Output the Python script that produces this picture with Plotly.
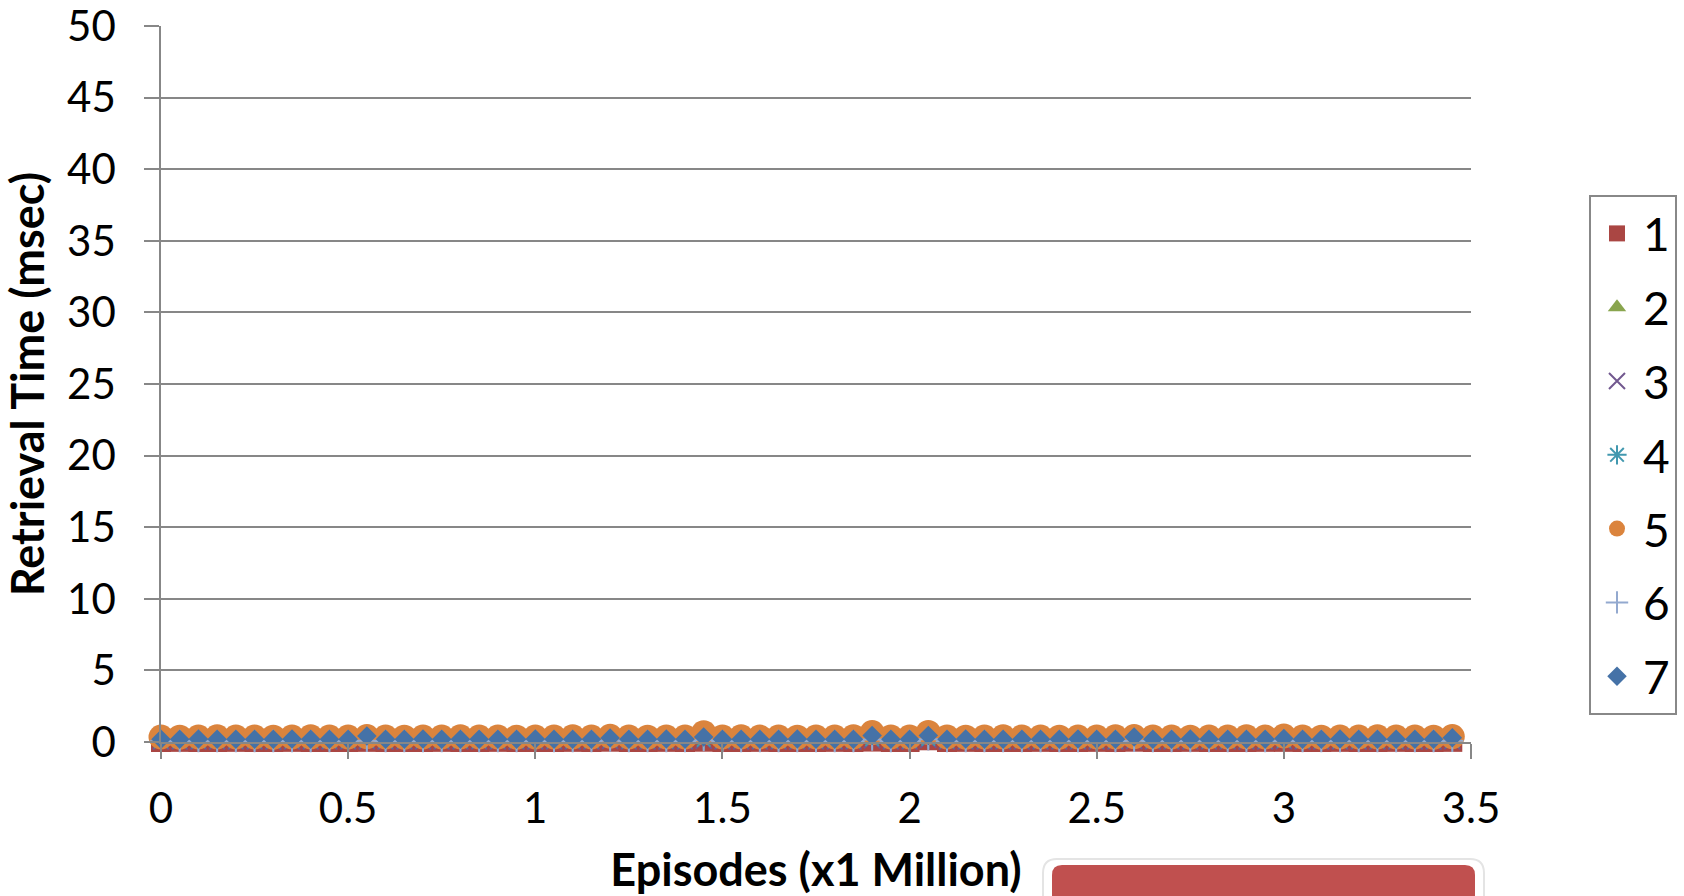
import plotly.graph_objects as go

# ---------------- data ----------------
episodes = [0.00, 0.05, 0.10, 0.15, 0.20, 0.25, 0.30, 0.35, 0.40, 0.45,
            0.50, 0.55, 0.60, 0.65, 0.70, 0.75, 0.80, 0.85, 0.90, 0.95,
            1.00, 1.05, 1.10, 1.15, 1.20, 1.25, 1.30, 1.35, 1.40, 1.45,
            1.50, 1.55, 1.60, 1.65, 1.70, 1.75, 1.80, 1.85, 1.90, 1.95,
            2.00, 2.05, 2.10, 2.15, 2.20, 2.25, 2.30, 2.35, 2.40, 2.45,
            2.50, 2.55, 2.60, 2.65, 2.70, 2.75, 2.80, 2.85, 2.90, 2.95,
            3.00, 3.05, 3.10, 3.15, 3.20, 3.25, 3.30, 3.35, 3.40, 3.45]

series_names = ["1", "2", "3", "4", "5", "6", "7"]

s1 = [0.00, 0.01, 0.00, 0.00, 0.01, 0.00, 0.00, 0.01, 0.00, 0.00,
      0.00, 0.01, 0.00, 0.00, 0.00, 0.01, 0.00, 0.00, 0.01, 0.00,
      0.00, 0.00, 0.01, 0.00, 0.02, 0.00, 0.00, 0.01, 0.00, 0.02,
      0.00, 0.00, 0.01, 0.00, 0.00, 0.00, 0.01, 0.00, 0.03, 0.00,
      0.00, 0.12, 0.00, 0.01, 0.00, 0.00, 0.00, 0.01, 0.00, 0.00,
      0.01, 0.00, 0.02, 0.00, 0.00, 0.01, 0.00, 0.00, 0.00, 0.01,
      0.01, 0.00, 0.00, 0.01, 0.00, 0.00, 0.01, 0.00, 0.00, 0.01]

s2 = [0.05, 0.05, 0.06, 0.05, 0.05, 0.04, 0.05, 0.05, 0.06, 0.05,
      0.05, 0.07, 0.05, 0.05, 0.05, 0.06, 0.05, 0.05, 0.04, 0.05,
      0.05, 0.05, 0.06, 0.05, 0.55, 0.05, 0.05, 0.05, 0.06, 0.12,
      0.05, 0.05, 0.05, 0.04, 0.05, 0.05, 0.06, 0.05, 0.18, 0.05,
      0.05, 0.22, 0.05, 0.05, 0.06, 0.05, 0.05, 0.05, 0.04, 0.05,
      0.05, 0.06, 0.08, 0.05, 0.05, 0.05, 0.05, 0.06, 0.05, 0.05,
      0.08, 0.05, 0.05, 0.05, 0.06, 0.05, 0.05, 0.04, 0.05, 0.08]

s3 = [0.03, 0.03, 0.04, 0.03, 0.03, 0.03, 0.02, 0.03, 0.03, 0.04,
      0.03, 0.05, 0.03, 0.03, 0.03, 0.03, 0.04, 0.03, 0.03, 0.03,
      0.03, 0.03, 0.03, 0.04, 0.06, 0.03, 0.03, 0.03, 0.03, 0.08,
      0.03, 0.03, 0.04, 0.03, 0.03, 0.03, 0.03, 0.03, 0.12, 0.03,
      0.03, 0.15, 0.03, 0.03, 0.03, 0.04, 0.03, 0.03, 0.03, 0.03,
      0.03, 0.03, 0.06, 0.03, 0.03, 0.03, 0.04, 0.03, 0.03, 0.03,
      0.05, 0.03, 0.03, 0.03, 0.03, 0.04, 0.03, 0.03, 0.03, 0.05]

s4 = [0.06, 0.06, 0.06, 0.07, 0.06, 0.06, 0.06, 0.06, 0.05, 0.06,
      0.06, 0.08, 0.06, 0.06, 0.07, 0.06, 0.06, 0.06, 0.06, 0.06,
      0.07, 0.06, 0.06, 0.06, 0.12, 0.06, 0.06, 0.06, 0.06, 0.15,
      0.06, 0.07, 0.06, 0.06, 0.06, 0.06, 0.06, 0.06, 0.20, 0.06,
      0.06, 0.22, 0.06, 0.06, 0.06, 0.06, 0.07, 0.06, 0.06, 0.06,
      0.06, 0.06, 0.10, 0.06, 0.06, 0.06, 0.06, 0.06, 0.07, 0.06,
      0.09, 0.06, 0.06, 0.06, 0.06, 0.06, 0.06, 0.07, 0.06, 0.09]

s5 = [0.35, 0.34, 0.35, 0.36, 0.35, 0.35, 0.34, 0.35, 0.36, 0.35,
      0.35, 0.38, 0.35, 0.34, 0.35, 0.35, 0.36, 0.35, 0.35, 0.34,
      0.35, 0.35, 0.36, 0.35, 0.40, 0.35, 0.34, 0.35, 0.35, 0.65,
      0.35, 0.36, 0.35, 0.35, 0.34, 0.35, 0.35, 0.36, 0.66, 0.35,
      0.35, 0.67, 0.35, 0.34, 0.35, 0.36, 0.35, 0.35, 0.34, 0.35,
      0.35, 0.36, 0.38, 0.35, 0.35, 0.34, 0.35, 0.35, 0.36, 0.35,
      0.42, 0.35, 0.34, 0.35, 0.35, 0.36, 0.35, 0.35, 0.34, 0.38]

s6 = [0.06, 0.07, 0.06, 0.06, 0.06, 0.06, 0.07, 0.06, 0.06, 0.06,
      0.06, 0.08, 0.06, 0.06, 0.06, 0.06, 0.06, 0.07, 0.06, 0.06,
      0.06, 0.06, 0.06, 0.06, 0.10, 0.07, 0.06, 0.06, 0.06, 0.13,
      0.06, 0.06, 0.06, 0.07, 0.06, 0.06, 0.06, 0.06, 0.17, 0.06,
      0.07, 0.19, 0.06, 0.06, 0.06, 0.06, 0.06, 0.06, 0.06, 0.07,
      0.06, 0.06, 0.09, 0.06, 0.07, 0.06, 0.06, 0.06, 0.06, 0.06,
      0.08, 0.06, 0.07, 0.06, 0.06, 0.06, 0.06, 0.06, 0.07, 0.08]

s7 = [0.20, 0.20, 0.21, 0.20, 0.20, 0.19, 0.20, 0.21, 0.20, 0.20,
      0.20, 0.42, 0.20, 0.20, 0.21, 0.20, 0.20, 0.19, 0.20, 0.20,
      0.21, 0.20, 0.20, 0.20, 0.28, 0.20, 0.20, 0.21, 0.20, 0.35,
      0.20, 0.20, 0.19, 0.20, 0.21, 0.20, 0.20, 0.20, 0.45, 0.20,
      0.20, 0.45, 0.20, 0.21, 0.20, 0.20, 0.19, 0.20, 0.20, 0.21,
      0.20, 0.20, 0.35, 0.20, 0.20, 0.21, 0.20, 0.20, 0.19, 0.20,
      0.24, 0.20, 0.20, 0.21, 0.20, 0.20, 0.20, 0.19, 0.20, 0.30]

series_values = [s1, s2, s3, s4, s5, s6, s7]

x_tick_vals = [0, 0.5, 1, 1.5, 2, 2.5, 3, 3.5]
x_tick_text = ["0", "0.5", "1", "1.5", "2", "2.5", "3", "3.5"]
y_tick_vals = [0, 5, 10, 15, 20, 25, 30, 35, 40, 45, 50]
y_tick_text = ["0", "5", "10", "15", "20", "25", "30", "35", "40", "45", "50"]

# ---------------- styles ----------------
colors = ["#AA4643", "#89A54E", "#71588F", "#4198AF", "#DB843D", "#93A9CF", "#4572A7"]
symbols = ["square", "triangle-up", "x-thin", "asterisk", "circle", "cross-thin", "diamond"]
sizes = [20, 16, 16, 16, 25, 16, 15]
line_symbols = {"x-thin", "asterisk", "cross-thin"}

W, H = 1684, 896
L, R, T, B = 161, 213, 26, 154
PW, PH = W - L - R, H - T - B


def px_x(p):
    return (p - L) / PW


def px_y(p):
    return (H - B - p) / PH


fig = go.Figure()
for name, vals, col, sym, sz in zip(series_names, series_values, colors, symbols, sizes):
    if sym in line_symbols:
        marker = dict(symbol=sym, size=sz, color=col, line=dict(color=col, width=2))
    else:
        marker = dict(symbol=sym, size=sz, color=col, line=dict(width=0))
    fig.add_trace(go.Scatter(
        x=episodes, y=vals, name=name, mode="markers", marker=marker,
        cliponaxis=False, legendgroup=name,
    ))

grid_col = "#878787"
font_family = "Lato"

fig.update_layout(
    width=W, height=H,
    margin=dict(l=L, r=R, t=T, b=B, autoexpand=False),
    paper_bgcolor="white", plot_bgcolor="white",
    font=dict(family=font_family, color="black", size=42),
    showlegend=True,
    legend=dict(
        x=px_x(1589), xanchor="left",
        y=px_y(455), yanchor="middle",
        bordercolor="#888888", borderwidth=2,
        font=dict(family=font_family, size=46, color="black"),
        tracegroupgap=11, traceorder="grouped", itemwidth=42,
        bgcolor="white",
    ),
    xaxis=dict(
        range=[0, 3.5], tickmode="array", tickvals=x_tick_vals, ticktext=x_tick_text,
        showgrid=False, zeroline=False,
        showline=True, linecolor=grid_col, linewidth=1.5,
        ticks="outside", ticklen=15, tickwidth=1.5, tickcolor=grid_col,
        tickfont=dict(family=font_family, size=42, color="black"),
        ticklabelstandoff=14, ticklabeloverflow="allow",
        title=dict(text="Episodes (x1 Million)", standoff=26,
                   font=dict(family=font_family, size=45, color="black", weight="bold")),
    ),
    yaxis=dict(
        range=[0, 50], tickmode="array", tickvals=y_tick_vals, ticktext=y_tick_text,
        showgrid=True, gridcolor=grid_col, gridwidth=1.5, zeroline=False,
        showline=True, linecolor=grid_col, linewidth=1.5,
        ticks="outside", ticklen=15, tickwidth=1.5, tickcolor=grid_col,
        tickfont=dict(family=font_family, size=42, color="black"),
        ticklabelstandoff=20, ticklabeloverflow="allow",
        title=dict(text="Retrieval Time (msec)", standoff=20,
                   font=dict(family=font_family, size=45, color="black", weight="bold")),
    ),
)


def rounded_top_rect(x0, x1, y0, y1, r):
    # pixel coordinates -> paper path with rounded top corners
    X0, X1 = px_x(x0), px_x(x1)
    Yt, Yb = px_y(y0), px_y(y1)
    rx, ry = r / PW, r / PH
    return (f"M {X0},{Yb} L {X0},{Yt - ry} Q {X0},{Yt} {X0 + rx},{Yt} "
            f"L {X1 - rx},{Yt} Q {X1},{Yt} {X1},{Yt - ry} L {X1},{Yb} Z")


fig.add_shape(type="path", xref="paper", yref="paper",
              path=rounded_top_rect(1043, 1484, 859, 930, 14),
              fillcolor="white", line=dict(color="#e4e4e4", width=2), layer="above")
fig.add_shape(type="path", xref="paper", yref="paper",
              path=rounded_top_rect(1052, 1475, 865, 930, 10),
              fillcolor="#C0504F", line=dict(width=0), layer="above")

fig.write_html("out.html")
